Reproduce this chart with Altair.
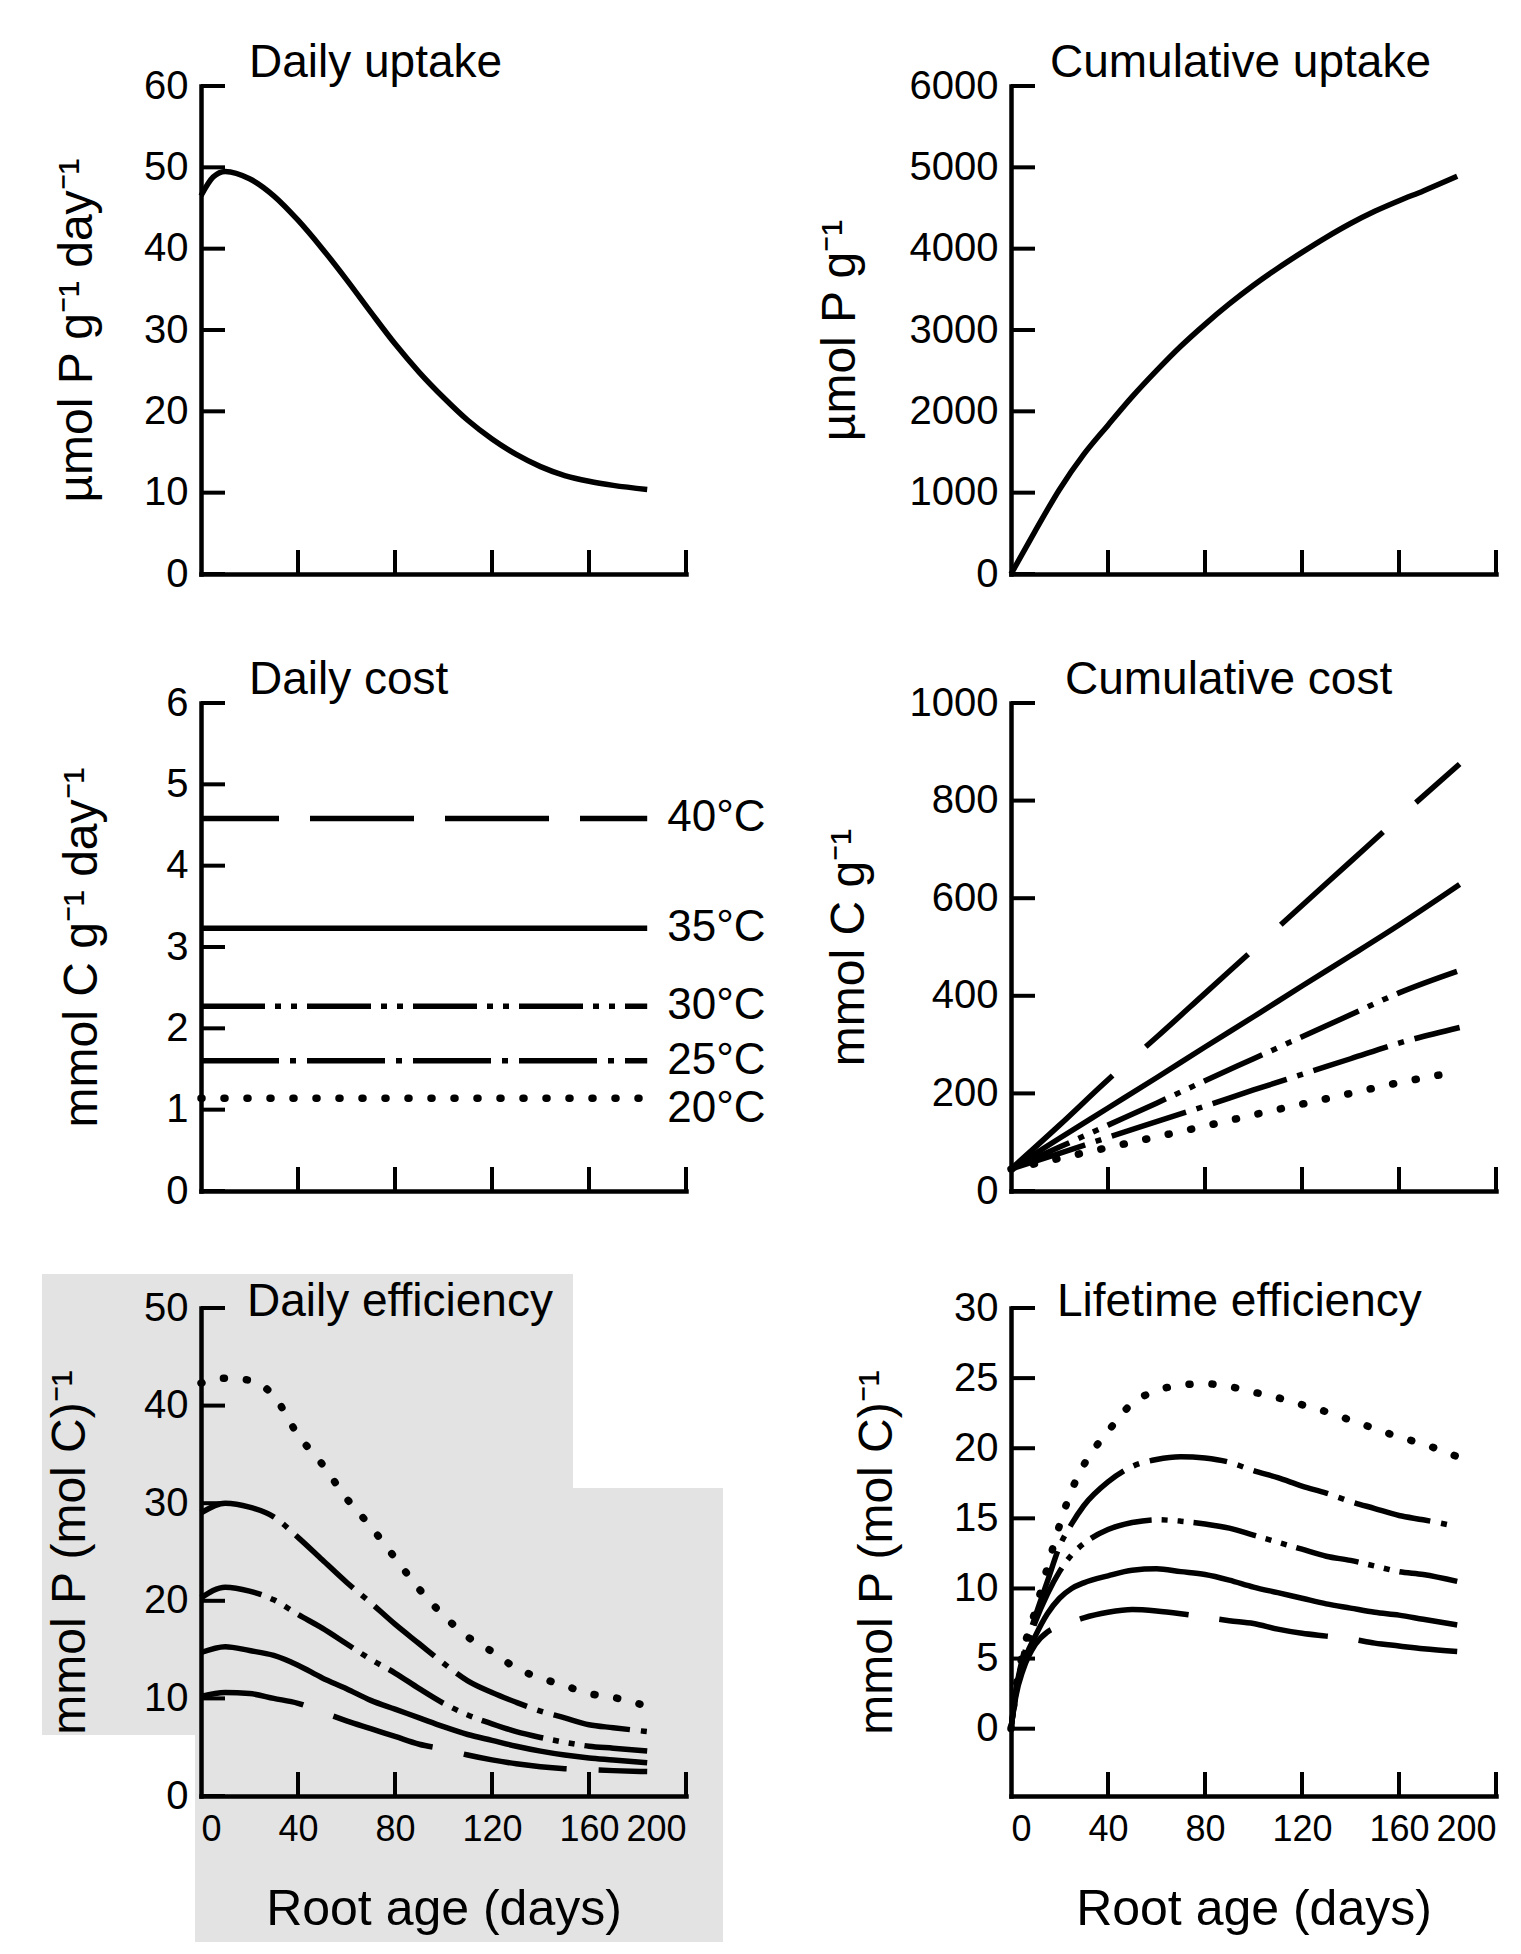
import altair as alt
import pandas as pd

FONT = "Liberation Sans, Arimo, Arial, Helvetica, sans-serif"
W, H = 485, 488
TICK_LEN = 24
LINE_W = 5.5
AXIS_W = 4.5

temps = ["40°C", "35°C", "30°C", "25°C", "20°C"]
x_ticks = [0, 40, 80, 120, 160, 200]
x_inner_ticks = [40, 80, 120, 160, 200]

# ---------------- Daily uptake ----------------
uptake_days = [0, 5, 10, 20, 30, 40, 50, 60, 70, 80, 90, 100, 110, 120, 130, 140, 150, 160, 170, 184]
uptake_vals = [46.5, 48.8, 49.5, 48.6, 46.5, 43.5, 40.0, 36.2, 32.2, 28.3, 24.8, 21.7, 18.9, 16.6, 14.7, 13.2, 12.1, 11.4, 10.9, 10.4]

# ---------------- Cumulative uptake ----------------
cum_uptake_days = [0, 10, 20, 30, 40, 50, 60, 70, 80, 90, 100, 110, 120, 130, 140, 150, 160, 170, 184]
cum_uptake_vals = [0, 530, 1040, 1470, 1830, 2180, 2500, 2800, 3070, 3320, 3550, 3760, 3955, 4140, 4310, 4460, 4590, 4710, 4890]

# ---------------- Daily cost ----------------
cost_days = [0, 184]
daily_cost = [4.58, 3.23, 2.27, 1.60, 1.14]

# ---------------- Cumulative cost ----------------
cum_cost_days = [0, 20, 40, 60, 80, 100, 120, 140, 160, 185]
cum_cost_40 = [45, 135, 228, 315, 405, 495, 585, 675, 765, 875]
cum_cost_35 = [45, 108, 170, 232, 295, 357, 420, 482, 545, 628]
cum_cost_30 = [45, 90, 135, 180, 226, 271, 316, 361, 406, 452]
cum_cost_25 = [45, 77, 110, 142, 174, 207, 239, 271, 303, 335]
cum_cost_20 = [45, 67, 89, 111, 133, 156, 178, 200, 222, 245]

# ---------------- Daily efficiency ----------------
eff_days = [0, 10, 20, 30, 40, 50, 60, 70, 80, 90, 100, 110, 120, 130, 140, 150, 160, 170, 184]
eff_40 = [10.2, 10.6, 10.5, 10.0, 9.5, 8.6, 7.7, 6.9, 6.1, 5.3, 4.8, 4.2, 3.7, 3.3, 3.0, 2.8, 2.7, 2.6, 2.5]
eff_35 = [14.7, 15.3, 14.9, 14.4, 13.4, 12.1, 11.0, 9.8, 8.9, 8.0, 7.1, 6.3, 5.7, 5.1, 4.6, 4.2, 3.9, 3.7, 3.4]
eff_30 = [20.3, 21.4, 21.0, 20.1, 18.6, 17.2, 15.6, 14.0, 12.6, 11.0, 9.5, 8.3, 7.4, 6.6, 6.0, 5.5, 5.1, 4.9, 4.6]
eff_25 = [29.0, 30.0, 29.6, 28.6, 26.5, 24.2, 21.9, 19.8, 17.6, 15.6, 13.6, 11.8, 10.6, 9.6, 8.7, 8.0, 7.3, 7.0, 6.6]
eff_20 = [42.3, 42.8, 42.6, 41.0, 37.0, 34.0, 30.5, 27.6, 24.4, 21.2, 18.5, 16.3, 14.8, 13.1, 12.1, 11.3, 10.5, 10.1, 9.2]

# ---------------- Lifetime efficiency ----------------
life_days = [0, 2, 5, 10, 15, 20, 25, 30, 40, 50, 60, 70, 80, 90, 100, 110, 120, 130, 140, 150, 160, 170, 184]
life_40 = [0, 2.3, 4.2, 6.0, 6.9, 7.3, 7.6, 7.9, 8.3, 8.5, 8.4, 8.2, 7.95, 7.7, 7.5, 7.1, 6.8, 6.6, 6.4, 6.1, 5.9, 5.7, 5.5]
life_35 = [0, 2.5, 4.6, 6.6, 8.2, 9.3, 10.0, 10.4, 10.9, 11.3, 11.4, 11.2, 11.0, 10.6, 10.1, 9.7, 9.3, 8.9, 8.6, 8.3, 8.1, 7.8, 7.4]
life_30 = [0, 2.6, 5.0, 7.6, 9.6, 11.2, 12.4, 13.2, 14.2, 14.7, 14.9, 14.8, 14.6, 14.3, 13.8, 13.3, 12.8, 12.3, 12.0, 11.6, 11.2, 11.0, 10.5]
life_25 = [0, 2.7, 5.2, 8.0, 10.5, 13.0, 14.6, 15.9, 17.6, 18.7, 19.2, 19.4, 19.3, 19.0, 18.4, 17.9, 17.3, 16.8, 16.2, 15.7, 15.2, 14.9, 14.4]
life_20 = [0, 2.8, 5.5, 8.4, 11.5, 14.5, 17.0, 18.8, 21.2, 23.2, 24.1, 24.5, 24.6, 24.4, 24.0, 23.6, 23.1, 22.6, 22.0, 21.4, 20.8, 20.3, 19.4]

BASE_STYLE = {
    "40°C": {"strokeDash": [104, 31]},
    "35°C": {},
    "30°C": {"strokeDash": [64, 10, 6, 10, 6, 10]},
    "25°C": {"strokeDash": [78, 11, 6, 11]},
    "20°C": {"strokeDash": [1, 22], "strokeCap": "round", "strokeWidth": 7.5},
    "solid": {},
}


def x_enc(bottom):
    kw = dict(values=x_ticks, ticks=False, tickSize=0, domainColor="black",
              domainWidth=AXIS_W, domainCap="square", labels=bottom,
              labelFont=FONT, labelFontSize=36, labelColor="black",
              labelPadding=16, labelOverlap=False, grid=False, zindex=1)
    if bottom:
        kw.update(title="Root age (days)", titleFont=FONT, titleFontSize=50,
                  titleFontWeight="normal", titleColor="black", titlePadding=37)
    else:
        kw.update(title="")
    return alt.X("day:Q", scale=alt.Scale(domain=[0, 200], nice=False, zero=False),
                 axis=alt.Axis(**kw))


def y_enc(domain, values, title, title_x):
    kw = dict(values=values, format="d", ticks=False, tickSize=0, domainColor="black",
              domainWidth=AXIS_W, domainCap="square", labelFont=FONT,
              labelFontSize=40, labelColor="black", labelPadding=13,
              labelOverlap=False, grid=False, zindex=1, title=title,
              titleFont=FONT, titleFontSize=48, titleFontWeight="normal",
              titleColor="black", titleX=title_x, titleY=H / 2,
              titleAngle=270, titleBaseline="bottom", titleAlign="center")
    return alt.Y("val:Q", scale=alt.Scale(domain=domain, nice=False, zero=False),
                 axis=alt.Axis(**kw))


def panel(series, domain, yvals, ytitle, title_x, title, title_dx, title_dy, bottom,
          overrides=None, interp="monotone", under=None, over=None):
    x = x_enc(bottom)
    y = y_enc(domain, yvals, ytitle, title_x)
    layers = []
    if under:
        layers += under(x, y)
    for name, days, vals in series:
        st = dict(BASE_STYLE[name])
        if overrides and name in overrides:
            st.update(overrides[name])
        kw = dict(color="black", strokeWidth=LINE_W, interpolate=interp)
        kw.update(st)
        df = pd.DataFrame({"day": days, "val": vals})
        layers.append(alt.Chart(df).mark_line(**kw).encode(x=x, y=y))
    yt = pd.DataFrame({"val": yvals})
    layers.append(alt.Chart(yt).mark_rule(color="black", strokeWidth=4).encode(
        y=y, x=alt.value(0), x2=alt.value(TICK_LEN)))
    xt = pd.DataFrame({"day": x_inner_ticks})
    layers.append(alt.Chart(xt).mark_rule(color="black", strokeWidth=4).encode(
        x=x, y=alt.value(H), y2=alt.value(H - TICK_LEN)))
    if over:
        layers += over(x, y)
    # panel title, written just above / beside the top of the y axis
    layers.append(alt.Chart(pd.DataFrame({"k": [0]})).mark_text(
        align="left", baseline="alphabetic", fontSize=46, font=FONT, color="black"
    ).encode(x=alt.value(title_dx), y=alt.value(title_dy), text=alt.value(title)))
    return alt.layer(*layers).properties(width=W, height=H)


def cost_labels(x, y):
    df = pd.DataFrame({"day": [cost_days[-1]] * 4, "val": daily_cost[:4], "lab": temps[:4]})
    df20 = pd.DataFrame({"day": [cost_days[-1]], "val": daily_cost[4:], "lab": temps[4:]})
    t1 = alt.Chart(df).mark_text(align="left", baseline="middle", dx=20, fontSize=44,
                                 font=FONT, color="black").encode(x=x, y=y, text="lab:N")
    t2 = alt.Chart(df20).mark_text(align="left", baseline="middle", dx=20, dy=11, fontSize=44,
                                   font=FONT, color="black").encode(x=x, y=y, text="lab:N")
    return [t1, t2]


def grey_patch(x, y):
    d = pd.DataFrame({"k": [0]})
    a = alt.Chart(d).mark_rect(color="#e3e3e3").encode(
        x=alt.value(-159), x2=alt.value(372), y=alt.value(-34), y2=alt.value(427))
    b = alt.Chart(d).mark_rect(color="#e3e3e3").encode(
        x=alt.value(-6), x2=alt.value(522), y=alt.value(180), y2=alt.value(634))
    return [a, b]


p1 = panel([("solid", uptake_days, uptake_vals)], [0, 60], [0, 10, 20, 30, 40, 50, 60],
           "µmol P g⁻¹ day⁻¹", -100, "Daily uptake", 48, -9, False)
p2 = panel([("solid", cum_uptake_days, cum_uptake_vals)], [0, 6000],
           [0, 1000, 2000, 3000, 4000, 5000, 6000],
           "µmol P g⁻¹", -147, "Cumulative uptake", 39, -9, False)
p3 = panel([(t, cost_days, [c, c]) for t, c in zip(temps, daily_cost)], [0, 6],
           [0, 1, 2, 3, 4, 5, 6], "mmol C g⁻¹ day⁻¹", -95, "Daily cost", 48, -9, False,
           overrides={"40°C": {"strokeDashOffset": 26}}, interp="linear", over=cost_labels)
p4 = panel([("40°C", cum_cost_days, cum_cost_40), ("35°C", cum_cost_days, cum_cost_35),
            ("30°C", cum_cost_days, cum_cost_30), ("25°C", cum_cost_days, cum_cost_25),
            ("20°C", cum_cost_days, cum_cost_20)], [0, 1000],
           [0, 200, 400, 600, 800, 1000], "mmol C g⁻¹", -138, "Cumulative cost", 54, -9, False,
           overrides={"40°C": {"strokeDash": [138, 44]}})
p5 = panel([("40°C", eff_days, eff_40), ("35°C", eff_days, eff_35), ("30°C", eff_days, eff_30),
            ("25°C", eff_days, eff_25), ("20°C", eff_days, eff_20)], [0, 50],
           [0, 10, 20, 30, 40, 50], "mmol P (mol C)⁻¹", -107, "Daily efficiency", 46, 8, True,
           overrides={"40°C": {"strokeDash": [104, 32]}}, under=grey_patch)
p6 = panel([("40°C", life_days, life_40), ("35°C", life_days, life_35), ("30°C", life_days, life_30),
            ("25°C", life_days, life_25), ("20°C", life_days, life_20)], [-4.8, 30],
           [0, 5, 10, 15, 20, 25, 30], "mmol P (mol C)⁻¹", -110, "Lifetime efficiency", 46, 8, True,
           overrides={"40°C": {"strokeDash": [110, 31]}})

chart = alt.concat(p1, p2, p3, p4, p5, p6, columns=2,
                   spacing={"row": 61, "column": 48}).properties(
    padding={"left": 33, "top": 31, "right": 5, "bottom": 2},
    background="white",
).configure_view(stroke="transparent")

chart.save("out.html", embed_options={"renderer": "svg", "actions": False})
